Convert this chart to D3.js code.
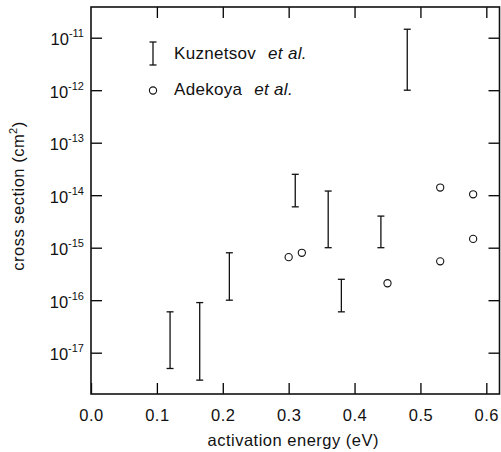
<!DOCTYPE html>
<html>
<head>
<meta charset="utf-8">
<script src="https://cdn.jsdelivr.net/npm/d3@7"></script>
<style>
  html, body { margin: 0; padding: 0; background: #fff; }
  svg { display: block; font-family: "Liberation Sans", Arial, sans-serif; }
</style>
</head>
<body>
<script>
// Kuznetsov et al. : error bars (activation energy, low / high cross section)
const kuzX = [0.12, 0.165, 0.21, 0.31, 0.36, 0.38, 0.44, 0.48];
const kuzLow = [5e-18, 3e-18, 1e-16, 6e-15, 1e-15, 6e-17, 1e-15, 1e-12];
const kuzHigh = [6e-17, 9e-17, 8e-16, 2.5e-14, 1.2e-14, 2.5e-16, 4e-15, 1.45e-11];

// Adekoya et al. : open circles
const adeX = [0.30, 0.32, 0.45, 0.53, 0.53, 0.58, 0.58];
const adeY = [6.6e-16, 8e-16, 2.1e-16, 5.5e-16, 1.4e-14, 1.47e-15, 1.04e-14];

const xTicks = [0, 0.1, 0.2, 0.3, 0.4, 0.5, 0.6];
const yExps = [-11, -12, -13, -14, -15, -16, -17];

let width = 501;
let height = 452;
let marginTop = 7;
let marginRight = 1.5;
let marginBottom = 58;
let marginLeft = 91;

let x = d3.scaleLinear()
    .domain([0, 0.62])
    .range([marginLeft, width - marginRight]);

let y = d3.scaleLog()
    .domain([Math.pow(10, -17.787), Math.pow(10, -10.415)])
    .range([height - marginBottom, marginTop]);

let svg = d3.select("body").append("svg")
    .attr("width", width)
    .attr("height", height)
    .attr("viewBox", [0, 0, width, height]);

const tickLen = 11;

// Axes: ticks point inward, mirrored on top and right
svg.append("g")
    .attr("transform", `translate(0,${height - marginBottom})`)
    .call(d3.axisBottom(x).tickValues(xTicks).tickSize(-tickLen).tickPadding(15)
        .tickFormat(d3.format(".1f")))
    .call(g => g.select(".domain").remove())
    .call(g => g.selectAll(".tick line").attr("stroke-width", 1.3))
    .call(g => g.selectAll("text").style("font-size", "16.5px")
        .style("letter-spacing", "0.5px").attr("fill", "#111"));

svg.append("g")
    .attr("transform", `translate(0,${marginTop})`)
    .call(d3.axisTop(x).tickValues(xTicks.slice(1)).tickSize(-tickLen).tickFormat(""))
    .call(g => g.select(".domain").remove())
    .call(g => g.selectAll(".tick line").attr("stroke-width", 1.3));

const yVals = yExps.map(e => Math.pow(10, e));

svg.append("g")
    .attr("transform", `translate(${marginLeft},0)`)
    .call(d3.axisLeft(y).tickValues(yVals).tickSize(-tickLen).tickFormat(""))
    .call(g => g.select(".domain").remove())
    .call(g => g.selectAll(".tick line").attr("stroke-width", 1.3));

svg.append("g")
    .attr("transform", `translate(${width - marginRight},0)`)
    .call(d3.axisRight(y).tickValues(yVals).tickSize(-tickLen).tickFormat(""))
    .call(g => g.select(".domain").remove())
    .call(g => g.selectAll(".tick line").attr("stroke-width", 1.3));

// y tick labels as 10^n
const yLab = svg.append("g").attr("fill", "#111")
    .selectAll("text")
    .data(yExps)
    .join("text")
    .attr("x", marginLeft - 7)
    .attr("y", d => y(Math.pow(10, d)) + 7.5)
    .attr("text-anchor", "end")
    .style("font-size", "16.5px");
yLab.append("tspan").text("10");
yLab.append("tspan")
    .attr("dy", -8)
    .style("font-size", "11px")
    .text(d => "-" + Math.abs(d));

// frame
svg.append("rect")
    .attr("x", marginLeft)
    .attr("y", marginTop)
    .attr("width", width - marginRight - marginLeft)
    .attr("height", height - marginBottom - marginTop)
    .attr("fill", "none")
    .attr("stroke", "#111")
    .attr("stroke-width", 1.6);

// axis titles
svg.append("text")
    .attr("x", (marginLeft + width - marginRight) / 2 - 2)
    .attr("y", 446)
    .attr("text-anchor", "middle")
    .attr("fill", "#111")
    .style("font-size", "16.5px")
    .style("letter-spacing", "0.5px")
    .text("activation energy (eV)");

const yTitle = svg.append("text")
    .attr("transform", `translate(24,196) rotate(-90)`)
    .attr("text-anchor", "middle")
    .attr("fill", "#111")
    .style("font-size", "16.5px")
    .style("letter-spacing", "0.5px");
yTitle.append("tspan").text("cross section (cm");
yTitle.append("tspan").attr("dy", -7).style("font-size", "11px").text("2");
yTitle.append("tspan").attr("dy", 7).text(")");

// error bars
const cap = 3.5;
const kuz = kuzX.map((d, i) => ({x: d, lo: kuzLow[i], hi: kuzHigh[i]}));
const bars = svg.append("g")
    .attr("stroke", "#111")
    .attr("stroke-width", 1.3)
    .selectAll("g")
    .data(kuz)
    .join("g");
bars.append("line")
    .attr("x1", d => x(d.x)).attr("x2", d => x(d.x))
    .attr("y1", d => y(d.lo)).attr("y2", d => y(d.hi));
bars.append("line")
    .attr("x1", d => x(d.x) - cap).attr("x2", d => x(d.x) + cap)
    .attr("y1", d => y(d.lo)).attr("y2", d => y(d.lo));
bars.append("line")
    .attr("x1", d => x(d.x) - cap).attr("x2", d => x(d.x) + cap)
    .attr("y1", d => y(d.hi)).attr("y2", d => y(d.hi));

// circles
svg.append("g")
    .attr("fill", "none")
    .attr("stroke", "#111")
    .attr("stroke-width", 1.1)
    .selectAll("circle")
    .data(adeX.map((d, i) => ({x: d, y: adeY[i]})))
    .join("circle")
    .attr("cx", d => x(d.x))
    .attr("cy", d => y(d.y))
    .attr("r", 3.6);

// legend
const lx = 153;
const leg = svg.append("g").attr("stroke", "#111").attr("stroke-width", 1.3);
leg.append("line").attr("x1", lx).attr("x2", lx).attr("y1", 42).attr("y2", 65);
leg.append("line").attr("x1", lx - cap).attr("x2", lx + cap).attr("y1", 42).attr("y2", 42);
leg.append("line").attr("x1", lx - cap).attr("x2", lx + cap).attr("y1", 65).attr("y2", 65);
leg.append("circle").attr("cx", lx).attr("cy", 90.5).attr("r", 3.6)
    .attr("fill", "none").attr("stroke-width", 1.1);

const legText = [["Kuznetsov", 59], ["Adekoya", 95]];
legText.forEach(([name, yy]) => {
  const t = svg.append("text")
      .attr("x", 174)
      .attr("y", yy)
      .attr("fill", "#111")
      .style("font-size", "17px")
      .style("letter-spacing", "0.3px");
  t.append("tspan").text(name);
  t.append("tspan").attr("dx", 12).style("font-style", "italic").text("et al.");
});
</script>
</body>
</html>
